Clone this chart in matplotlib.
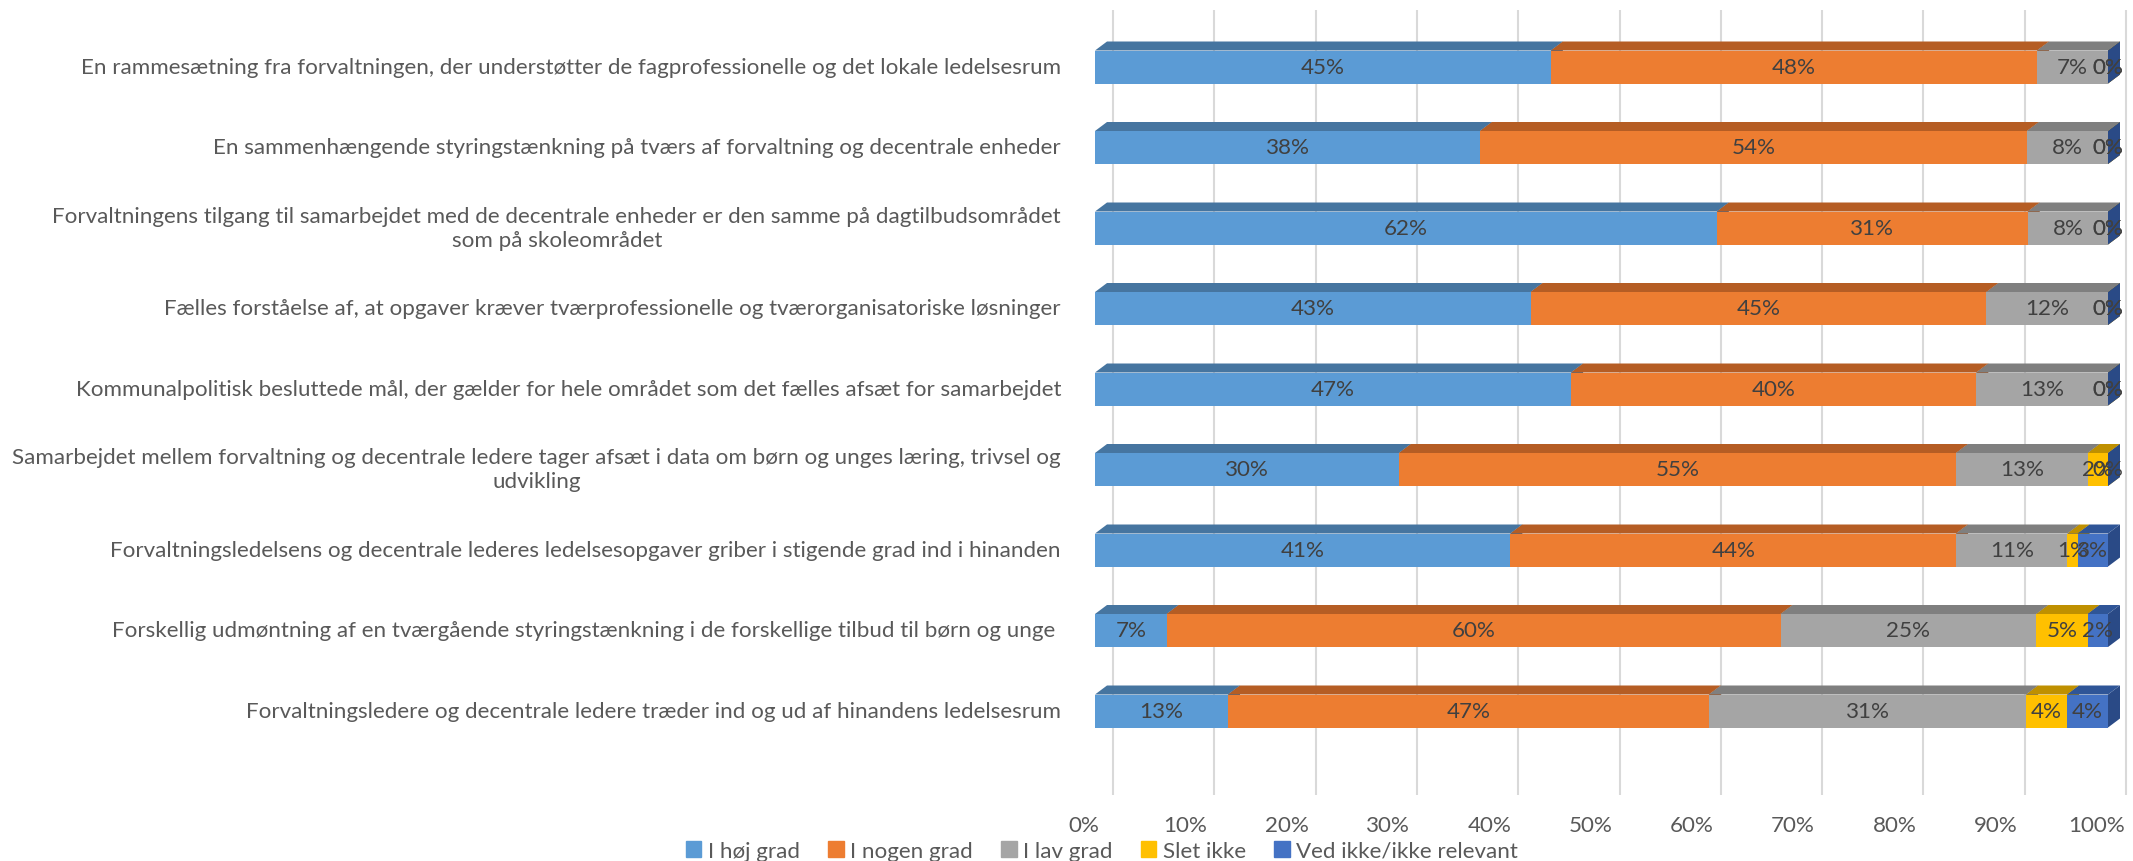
import matplotlib
matplotlib.use('Agg')
import matplotlib.pyplot as plt
from matplotlib.patches import Polygon, Patch
import numpy as np

# ---------------- data ----------------
categories = [
    "En rammesætning fra forvaltningen, der understøtter de fagprofessionelle og det lokale ledelsesrum",
    "En sammenhængende styringstænkning på tværs af forvaltning og decentrale enheder",
    "Forvaltningens tilgang til samarbejdet med de decentrale enheder er den samme på dagtilbudsområdet\nsom på skoleområdet",
    "Fælles forståelse af, at opgaver kræver tværprofessionelle og tværorganisatoriske løsninger",
    "Kommunalpolitisk besluttede mål, der gælder for hele området som det fælles afsæt for samarbejdet",
    "Samarbejdet mellem forvaltning og decentrale ledere tager afsæt i data om børn og unges læring, trivsel og\nudvikling",
    "Forvaltningsledelsens og decentrale lederes ledelsesopgaver griber i stigende grad ind i hinanden",
    "Forskellig udmøntning af en tværgående styringstænkning i de forskellige tilbud til børn og unge ",
    "Forvaltningsledere og decentrale ledere træder ind og ud af hinandens ledelsesrum",
]
series_names = ["I høj grad", "I nogen grad", "I lav grad", "Slet ikke", "Ved ikke/ikke relevant"]
hoej_grad   = [45, 38, 62, 43, 47, 30, 41, 7, 13]
nogen_grad  = [48, 54, 31, 45, 40, 55, 44, 60, 47]
lav_grad    = [7, 8, 8, 12, 13, 13, 11, 25, 31]
slet_ikke   = [0, 0, 0, 0, 0, 2, 1, 5, 4]
ved_ikke    = [0, 0, 0, 0, 0, 0, 3, 2, 4]
tick_vals = [0, 10, 20, 30, 40, 50, 60, 70, 80, 90, 100]

front_cols = ["#5B9BD5", "#ED7D31", "#A5A5A5", "#FFC000", "#4472C4"]
top_cols   = ["#4675A0", "#B55D24", "#7F7F7F", "#BF9000", "#2F5597"]
side_cols  = ["#3E6892", "#A05220", "#707070", "#A87F00", "#2A4A86"]

# ---------------- layout ----------------
W, H = 2133, 862
fig = plt.figure(figsize=(W / 100, H / 100), dpi=100)
FAM = ['Lato', 'DejaVu Sans']
TXT = '#595959'

x0_px, x100_px = 1095, 2108          # front face 0% .. 100%
top_px, bot_px = 11, 796             # plot area
row0_px, row_step = 68, 80.5

ax = fig.add_axes([x0_px / W, 1 - bot_px / H, (W - x0_px) / W, (bot_px - top_px) / H])
ux = 1 / (x100_px - x0_px)
uy = 1 / row_step
ax.set_xlim(0, (W - x0_px) * ux)
ax.set_ylim((bot_px - row0_px) * uy, (top_px - row0_px) * uy)
ax.axis('off')

dx, dy = 12 * ux, 9 * uy
grid_off = 18 * ux
bar_h = 33 * uy

# font size fitted to the longest label width
probe = fig.text(0, 0, categories[0], fontsize=10, family=FAM)
wpx = probe.get_window_extent(fig.canvas.get_renderer()).width
fs = 10 * 977 / wpx
probe.remove()

for t in tick_vals:
    ax.axvline(t / 100 + grid_off, color='#D9D9D9', lw=1.5, zorder=0)
    ax.annotate(f"{t}%", xy=(t / 100 - 11 * ux, 0), xycoords=('data', 'axes fraction'),
                xytext=(0, -30 * 0.72), textcoords='offset points',
                ha='center', va='center', fontsize=fs, color=TXT, family=FAM)

data = np.array([hoej_grad, nogen_grad, lav_grad, slet_ikke, ved_ikke], dtype=float)
shares = data / data.sum(axis=0)

z = 2
for i, cat in enumerate(categories):
    yt, yb = i - bar_h / 2, i + bar_h / 2
    left = 0.0
    for s in range(len(series_names)):
        w = shares[s, i]
        right = left + w
        ax.add_patch(Polygon([(right, yt), (right + dx, yt - dy), (right + dx, yb - dy), (right, yb)],
                             closed=True, fc=side_cols[s], ec='none', zorder=z))
        ax.barh(i, w, left=left, height=bar_h, color=front_cols[s], zorder=z + 1)
        ax.add_patch(Polygon([(left, yt), (right, yt), (right + dx, yt - dy), (left + dx, yt - dy)],
                             closed=True, fc=top_cols[s], ec='none', zorder=z + 2))
        ax.text(left + w / 2, i, f"{int(data[s, i])}%", ha='center', va='center',
                fontsize=fs, color='#404040', family=FAM, zorder=1000)
        z += 3
        left = right
    ax.annotate(cat, xy=(0, i), xycoords=('axes fraction', 'data'),
                xytext=(-34 * 0.72, 0), textcoords='offset points',
                ha='right', va='center', multialignment='center',
                fontsize=fs, color=TXT, family=FAM, linespacing=1.25)

handles = [Patch(color=c) for c in front_cols]
fig.legend(handles, series_names, loc='center', bbox_to_anchor=(1102 / W, 1 - 852 / H),
           ncol=5, frameon=False, handlelength=0.7, handleheight=0.7, handletextpad=0.3,
           columnspacing=1.25, prop={'family': FAM, 'size': fs}, labelcolor=TXT)

fig.savefig('out.png', dpi=100)
